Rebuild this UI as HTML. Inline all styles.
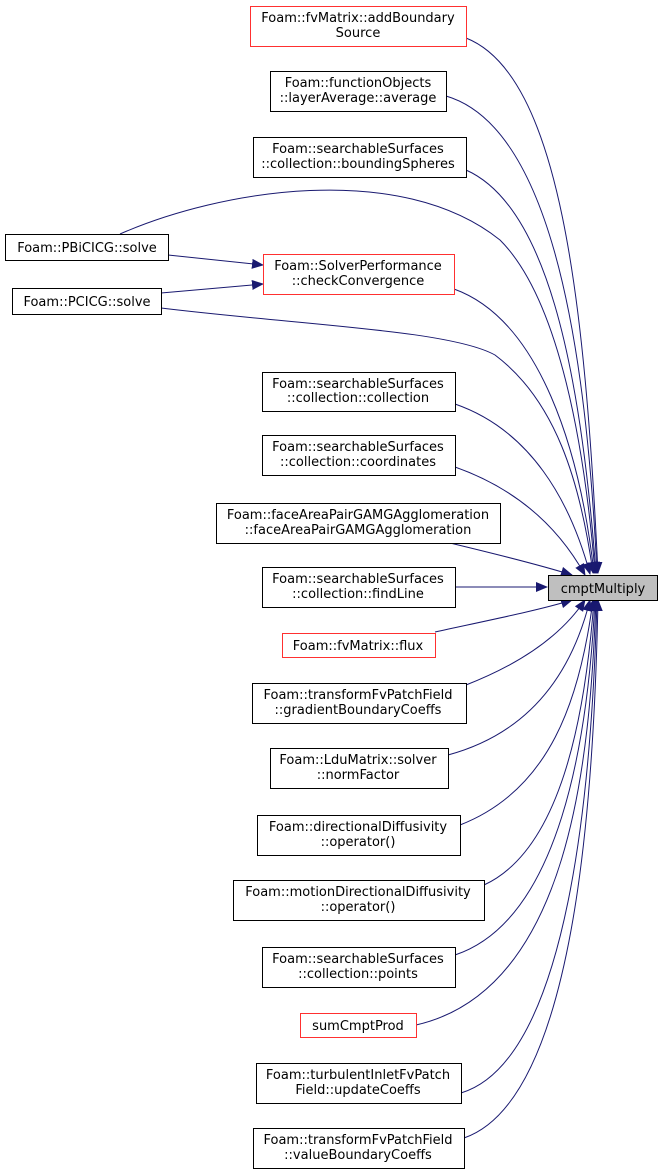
<!DOCTYPE html>
<html><head><meta charset="utf-8"><style>
html,body{margin:0;padding:0;background:#fff;}
svg{display:block}
text{font-family:"DejaVu Sans","Liberation Sans",sans-serif;font-size:13px;fill:#000;text-anchor:middle}
.n{fill:#fff;stroke:#000;stroke-width:1}
.r{fill:#fff;stroke:#ff3030;stroke-width:1}
.e{fill:none;stroke:#191970;stroke-width:1}
</style></head><body>
<svg width="663" height="1175" viewBox="0 0 663 1175" xmlns="http://www.w3.org/2000/svg">
<defs><marker id="a" markerWidth="12" markerHeight="10" refX="11" refY="5" orient="auto" markerUnits="userSpaceOnUse"><path d="M0,0 L12,5 L0,10 Z" fill="#191970"/></marker></defs>
<g class="e">
<path marker-end="url(#a)" d="M466,38 C560,75 585,300 598,573"/>
<path marker-end="url(#a)" d="M446,96 C545,125 585,320 597,573"/>
<path marker-end="url(#a)" d="M466,170 C545,205 580,360 596,573"/>
<path marker-end="url(#a)" d="M120,234 C220,190 400,160 500,240 C560,300 585,450 595,573"/>
<path marker-end="url(#a)" d="M454,289 C540,320 580,450 594,573"/>
<path marker-end="url(#a)" d="M161,308 C300,325 450,330 495,355 C555,400 580,480 593,573"/>
<path marker-end="url(#a)" d="M455,404 C530,430 570,500 590,574"/>
<path marker-end="url(#a)" d="M455,467 C520,490 560,530 585,575"/>
<path marker-end="url(#a)" d="M450,543 C500,555 540,565 572,575"/>
<path marker-end="url(#a)" d="M455,587 L547,587"/>
<path marker-end="url(#a)" d="M435,632 C490,620 540,610 572,600"/>
<path marker-end="url(#a)" d="M466,685 C530,660 565,630 585,600"/>
<path marker-end="url(#a)" d="M448,755 C540,730 575,660 590,600"/>
<path marker-end="url(#a)" d="M460,825 C550,790 580,700 593,600"/>
<path marker-end="url(#a)" d="M484,885 C560,850 585,720 594,600"/>
<path marker-end="url(#a)" d="M455,955 C560,920 588,740 595,600"/>
<path marker-end="url(#a)" d="M416,1025 C570,990 590,760 596,600"/>
<path marker-end="url(#a)" d="M461,1093 C570,1060 592,780 597,600"/>
<path marker-end="url(#a)" d="M464,1138 C575,1100 594,800 598,600"/>
<path marker-end="url(#a)" d="M168,255 L263,265"/>
<path marker-end="url(#a)" d="M161,293 L263,284"/>
</g>
<rect class="r" x="250.5" y="6.5" width="216" height="40"/>
<text x="358" y="22">Foam::fvMatrix::addBoundary</text><text x="358" y="37">Source</text>
<rect class="n" x="270.5" y="71.5" width="176" height="40"/>
<text x="358" y="87">Foam::functionObjects</text><text x="358" y="102">::layerAverage::average</text>
<rect class="n" x="253.5" y="137.5" width="213" height="40"/>
<text x="358" y="153">Foam::searchableSurfaces</text><text x="358" y="168">::collection::boundingSpheres</text>
<rect class="n" x="5.5" y="234.5" width="163" height="26"/>
<text x="87" y="252">Foam::PBiCICG::solve</text>
<rect class="n" x="12.5" y="288.5" width="149" height="26"/>
<text x="87" y="306">Foam::PCICG::solve</text>
<rect class="r" x="263.5" y="254.5" width="191" height="40"/>
<text x="358" y="270">Foam::SolverPerformance</text><text x="358" y="285">::checkConvergence</text>
<rect class="n" x="262.5" y="372.5" width="193" height="39"/>
<text x="358" y="388">Foam::searchableSurfaces</text><text x="358" y="402">::collection::collection</text>
<rect class="n" x="262.5" y="435.5" width="193" height="40"/>
<text x="358" y="451">Foam::searchableSurfaces</text><text x="358" y="466">::collection::coordinates</text>
<rect class="n" x="216.5" y="503.5" width="284" height="40"/>
<text x="358" y="519">Foam::faceAreaPairGAMGAgglomeration</text><text x="358" y="534">::faceAreaPairGAMGAgglomeration</text>
<rect class="n" x="262.5" y="567.5" width="193" height="40"/>
<text x="358" y="583">Foam::searchableSurfaces</text><text x="358" y="598">::collection::findLine</text>
<rect class="r" x="282.5" y="633.5" width="153" height="24"/>
<text x="358" y="650">Foam::fvMatrix::flux</text>
<rect class="n" x="252.5" y="683.5" width="214" height="40"/>
<text x="358" y="699">Foam::transformFvPatchField</text><text x="358" y="714">::gradientBoundaryCoeffs</text>
<rect class="n" x="270.5" y="748.5" width="178" height="40"/>
<text x="358" y="764">Foam::LduMatrix::solver</text><text x="358" y="779">::normFactor</text>
<rect class="n" x="257.5" y="815.5" width="203" height="40"/>
<text x="358" y="831">Foam::directionalDiffusivity</text><text x="358" y="846">::operator()</text>
<rect class="n" x="233.5" y="880.5" width="251" height="40"/>
<text x="358" y="896">Foam::motionDirectionalDiffusivity</text><text x="358" y="911">::operator()</text>
<rect class="n" x="262.5" y="947.5" width="193" height="40"/>
<text x="358" y="963">Foam::searchableSurfaces</text><text x="358" y="978">::collection::points</text>
<rect class="r" x="300.5" y="1013.5" width="116" height="24"/>
<text x="358" y="1030">sumCmptProd</text>
<rect class="n" x="256.5" y="1063.5" width="205" height="40"/>
<text x="358" y="1079">Foam::turbulentInletFvPatch</text><text x="358" y="1094">Field::updateCoeffs</text>
<rect class="n" x="253.5" y="1128.5" width="211" height="40"/>
<text x="358" y="1144">Foam::transformFvPatchField</text><text x="358" y="1159">::valueBoundaryCoeffs</text>
<rect x="548.5" y="575.5" width="109" height="25" fill="#bfbfbf" stroke="#000"/>
<text x="603" y="593">cmptMultiply</text>
</svg>
</body></html>
